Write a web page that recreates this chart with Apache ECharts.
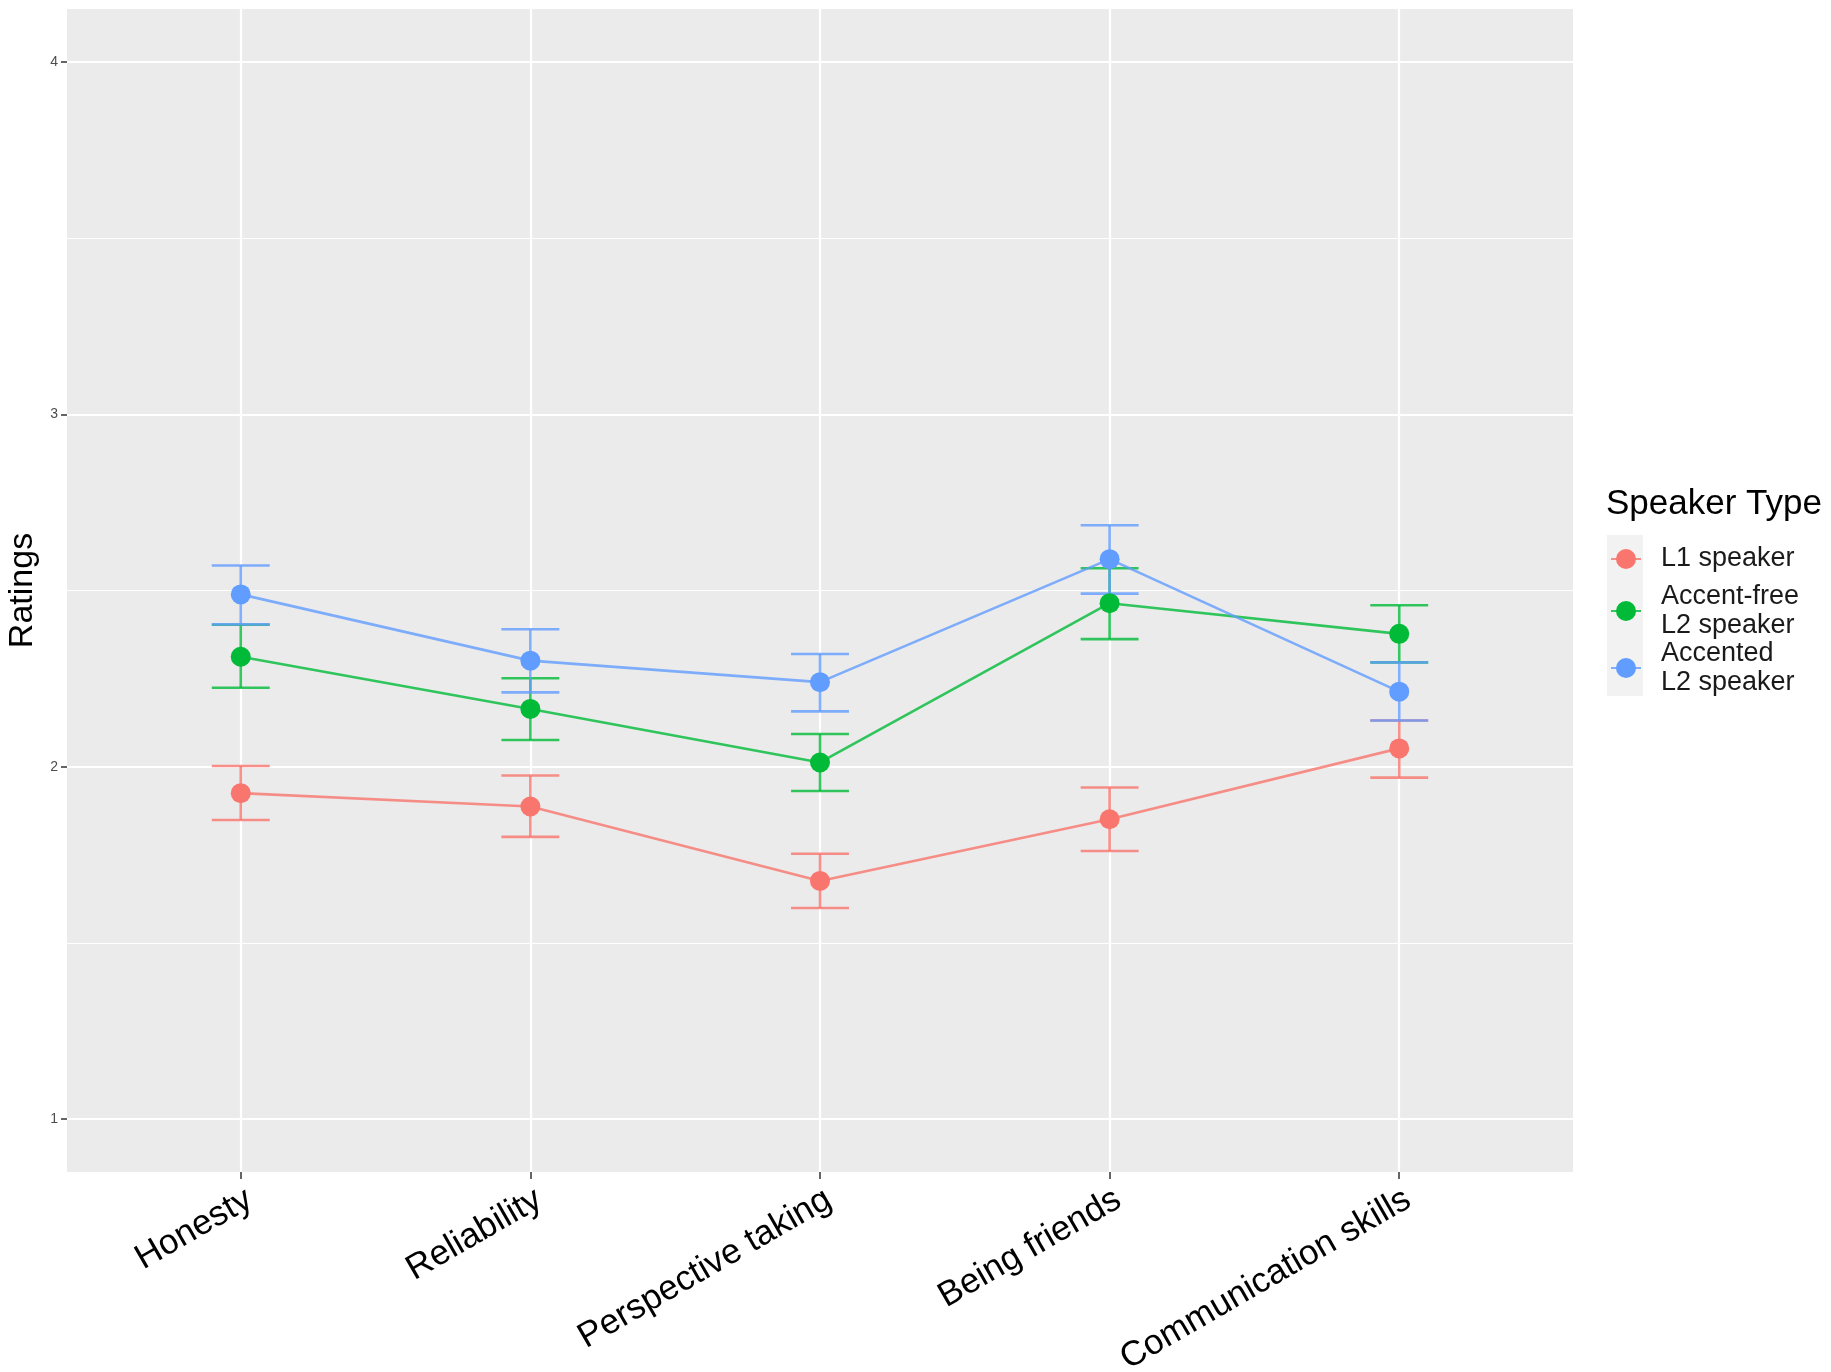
<!DOCTYPE html>
<html>
<head>
<meta charset="utf-8">
<script src="https://cdn.jsdelivr.net/npm/echarts@6/dist/echarts.min.js"></script>
<style>
html,body{margin:0;padding:0;background:#fff;}
#chart{width:1831px;height:1372px;}
</style>
</head>
<body>
<div id="chart"></div>
<script>
const categories = ['Honesty', 'Reliability', 'Perspective taking', 'Being friends', 'Communication skills'];
const seriesNames = ['L1 speaker', 'Accent-free\nL2 speaker', 'Accented\nL2 speaker'];
const colors = ['#F8766D', '#00BA38', '#619CFF'];

const l1Mean = [1.925, 1.887, 1.676, 1.851, 2.052];
const l1Low  = [1.849, 1.801, 1.599, 1.761, 1.969];
const l1High = [2.002, 1.975, 1.753, 1.941, 2.131];

const afMean = [2.312, 2.164, 2.012, 2.464, 2.377];
const afLow  = [2.224, 2.076, 1.931, 2.362, 2.296];
const afHigh = [2.403, 2.251, 2.093, 2.563, 2.458];

const acMean = [2.489, 2.301, 2.240, 2.589, 2.213];
const acLow  = [2.404, 2.211, 2.157, 2.491, 2.131];
const acHigh = [2.571, 2.390, 2.320, 2.685, 2.296];

const yMajorTicks = [1, 2, 3, 4];
const yMinorTicks = [1.5, 2.5, 3.5];
const xTicks = [0, 1, 2, 3, 4];

const means = [l1Mean, afMean, acMean];
const lows = [l1Low, afLow, acLow];
const highs = [l1High, afHigh, acHigh];

const FONT = '"Liberation Sans", Arial, Helvetica, sans-serif';

function makeErr(color) {
  return function (params, api) {
    const x = api.value(0), lo = api.value(1), hi = api.value(2);
    const pLo = api.coord([x, lo]);
    const pHi = api.coord([x, hi]);
    const hw = api.size([0.2, 0])[0] / 2;
    const style = { stroke: color, lineWidth: 2.6, opacity: 0.8 };
    return {
      type: 'group',
      children: [
        { type: 'line', shape: { x1: pLo[0], y1: pLo[1], x2: pHi[0], y2: pHi[1] }, style: Object.assign({}, style) },
        { type: 'line', shape: { x1: pLo[0] - hw, y1: pLo[1], x2: pLo[0] + hw, y2: pLo[1] }, style: Object.assign({}, style) },
        { type: 'line', shape: { x1: pHi[0] - hw, y1: pHi[1], x2: pHi[0] + hw, y2: pHi[1] }, style: Object.assign({}, style) }
      ]
    };
  };
}

const series = [];
for (let s = 0; s < 3; s++) {
  series.push({
    type: 'custom',
    name: seriesNames[s] + '_err',
    xAxisIndex: 0, yAxisIndex: 0,
    renderItem: makeErr(colors[s]),
    encode: { x: 0, y: [1, 2] },
    data: categories.map((c, i) => [i, lows[s][i], highs[s][i]]),
    z: 2,
    silent: true
  });
}
for (let s = 0; s < 3; s++) {
  series.push({
    type: 'line',
    name: seriesNames[s],
    xAxisIndex: 0, yAxisIndex: 0,
    color: colors[s],
    symbol: 'circle',
    symbolSize: 20,
    showSymbol: true,
    lineStyle: { width: 2.6, opacity: 0.8, color: colors[s] },
    itemStyle: { color: colors[s], opacity: 1 },
    data: categories.map((c, i) => [i, means[s][i]]),
    z: 3 + s
  });
}

const chart = echarts.init(document.getElementById('chart'));
chart.setOption({
  animation: false,
  backgroundColor: '#ffffff',
  textStyle: { fontFamily: FONT },
  title: {
    text: 'Speaker Type',
    left: 1606,
    top: 487,
    padding: 0,
    textStyle: { fontSize: 35, fontWeight: 'normal', color: '#000', fontFamily: FONT }
  },
  graphic: [
    { type: 'rect', left: 1607, top: 535, shape: { width: 36, height: 161 }, style: { fill: '#F2F2F2' }, z: -1 }
  ],
  legend: {
    orient: 'vertical',
    left: 1610,
    top: 535,
    padding: 0,
    itemWidth: 30,
    itemHeight: 25,
    itemGap: -1,
    data: [
      { name: seriesNames[0], textStyle: { padding: [10, 0, 9, 15] } },
      { name: seriesNames[1] },
      { name: seriesNames[2] }
    ],
    textStyle: { fontSize: 27, lineHeight: 29, color: '#1a1a1a', fontFamily: FONT, padding: [0, 0, 0, 15] },
    selectedMode: false
  },
  grid: {
    left: 67, right: 258, top: 9, bottom: 200,
    show: true, backgroundColor: '#EBEBEB', borderWidth: 0,
    containLabel: false,
    outerBoundsMode: 'none'
  },
  xAxis: {
    type: 'value',
    min: -0.6, max: 4.6,
    axisLine: { show: false, onZero: false },
    axisTick: { show: true, length: 7, lineStyle: { color: '#333333', width: 1.5 }, customValues: xTicks },
    axisLabel: {
      customValues: xTicks,
      formatter: v => categories[Math.round(v)] || '',
      rotate: 30,
      fontSize: 35,
      color: '#000',
      margin: 10,
      verticalAlign: 'top',
      fontFamily: FONT
    },
    splitLine: { show: true, lineStyle: { color: '#ffffff', width: 2.2 } }
  },
  yAxis: [
    {
      type: 'value',
      min: 0.85, max: 4.15,
      name: 'Ratings',
      nameLocation: 'middle',
      nameRotate: 90,
      nameGap: 27,
      nameTextStyle: { fontSize: 34, color: '#000', fontFamily: FONT },
      axisLine: { show: false, onZero: false },
      axisTick: { show: true, length: 6, lineStyle: { color: '#333333', width: 1.5 }, customValues: yMajorTicks },
      axisLabel: { customValues: yMajorTicks, fontSize: 14, color: '#4D4D4D', margin: 9, fontFamily: FONT },
      splitLine: { show: true, lineStyle: { color: '#ffffff', width: 2.2 } }
    },
    {
      type: 'value',
      min: 0.85, max: 4.15,
      position: 'left',
      axisLine: { show: false, onZero: false },
      axisTick: { show: false, customValues: yMinorTicks },
      axisLabel: { show: false, customValues: yMinorTicks },
      splitLine: { show: true, lineStyle: { color: '#ffffff', width: 1.1 } }
    }
  ],
  series: series
});
</script>
</body>
</html>
